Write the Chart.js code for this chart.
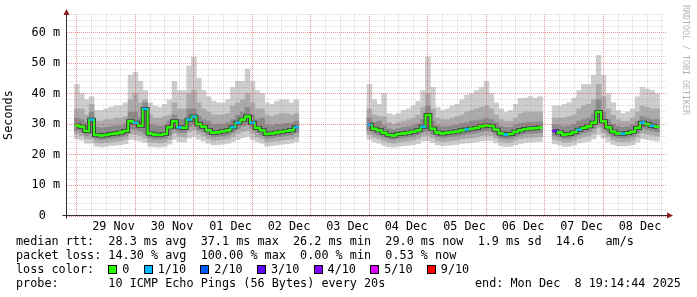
<!DOCTYPE html>
<html><head><meta charset="utf-8">
<script src="https://cdn.jsdelivr.net/npm/chart.js@4"></script>
<style>
html,body{margin:0;padding:0;background:#fff;}
#wrap{position:relative;width:697px;height:297px;overflow:hidden;font-family:"DejaVu Sans Mono",monospace;font-size:11.8px;color:#000;}
#c{position:absolute;left:0;top:0;}
.row{position:absolute;left:16px;white-space:pre;line-height:14px;}
.box{display:inline-block;width:7px;height:7px;border:1px solid #000;margin-right:5px;vertical-align:-1px;}
#credit{position:absolute;left:681px;top:5px;writing-mode:vertical-rl;font-size:8.3px;line-height:10px;color:#b4b4b4;white-space:pre;}
</style></head>
<body><div id="wrap"><canvas id="c" width="697" height="297"></canvas>
<div class="row" style="top:234px">median rtt:  28.3 ms avg  37.1 ms max  26.2 ms min  29.0 ms now  1.9 ms sd  14.6   am/s</div>
<div class="row" style="top:248px">packet loss: 14.30 % avg  100.00 % max  0.00 % min  0.53 % now</div>
<div class="row" id="lossrow" style="top:262px"></div>
<div class="row" style="top:276px">probe:       10 ICMP Echo Pings (56 Bytes) every 20s</div>
<div class="row" style="top:276px;left:475px">end: Mon Dec  8 19:14:44 2025</div>
<div id="credit">RRDTOOL / TOBI OETIKER</div>
</div>
<script>
const _ = null;
// hours relative to 29 Nov 00:00; one sample column every 2 hours
const firstSampleHour = -3, sampleHours = 2, axisStartHour = -4, axisEndHour = 236;
const dayLabels = ['29 Nov','30 Nov','01 Dec','02 Dec','03 Dec','04 Dec','05 Dec','06 Dec','07 Dec','08 Dec'];
const lossLabels = ['0','1/10','2/10','3/10','4/10','5/10','9/10'];
const lossColors = ['#26ff00','#00b8ff','#0059ff','#5e00ff','#7e00ff','#dd00ff','#ff0000'];

const med = [29.6,29.2,27.8,31.5,26.5,26.3,26.5,26.8,27.0,27.3,
 27.8,31.0,30.5,29.5,35.0,27.0,26.6,26.5,26.8,29.0,
 31.0,29.0,28.8,31.5,32.5,30.0,29.2,28.0,27.2,27.4,
 27.7,28.0,29.0,30.5,31.5,32.5,30.5,28.8,28.0,26.8,
 27.0,27.3,27.5,27.8,28.0,29.0,_,_,_,_,_,_,_,_,_,_,_,_,_,_,
 29.8,28.5,28.0,27.2,26.5,26.3,26.8,27.0,27.2,27.5,
 28.0,29.2,33.0,28.5,27.3,27.0,27.2,27.4,27.6,28.0,
 28.3,28.5,28.8,29.3,29.6,29.4,28.2,27.0,26.6,26.8,
 27.5,28.0,28.4,28.6,28.7,28.9,_,_,27.8,27.3,
 26.6,26.8,27.4,28.2,28.8,29.3,30.5,34.0,31.0,29.0,
 27.6,27.0,26.9,27.1,27.5,28.8,30.5,30.0,29.5,29.2];
const loss = [0,0,0,1,0,0,0,0,0,0, 0,0,1,0,1,0,0,0,0,0, 0,1,0,1,1,0,0,0,0,0, 0,0,1,1,0,0,1,0,0,0,
 0,0,0,0,0,1,_,_,_,_,_,_,_,_,_,_,_,_,_,_,
 1,0,0,0,0,0,0,0,0,0, 0,1,0,0,0,0,0,0,0,0, 1,0,0,0,0,0,0,0,1,0, 0,0,0,0,0,0,_,_,3,0,
 0,0,0,1,0,0,0,0,0,0, 0,0,1,0,0,0,1,0,1,0];
const maxRtt = [43,40,38,39,34.5,34.5,35,35.5,36,36,
 37,46,47,44,41,37,36,35.5,36.5,38,
 44,41,41,49,52,45,41,39,37.5,37,
 37,38,42,44,44,48,44,41,40,37,
 36.5,37.5,38,38,37,38,_,_,_,_,_,_,_,_,_,_,_,_,_,_,
 43,38,36.5,40,33.5,33,33.5,34.5,35,36,
 37.5,41,52,42,35.5,34.5,35,36,36.5,38,
 39.5,40,41,42,44,40,37,35,34,34.5,
 36.5,38.5,38.5,39,38.5,39,_,_,36,36,
 36.5,37,38.5,41,43,43,46,52.5,46,40,
 37,34.5,33.5,34,35,39,42,41.5,41,40];
const hi2 = [35,35,33,36.5,31,31,31.5,31.5,32,32,
 32.5,38,40,37,38,33,32,32,32.5,33,
 37,35,35,40,41,37,35,34,33,33,
 33,33.5,36,37,38,40,37,35,35,33,
 32.5,33,33.5,33.5,33,33.5,_,_,_,_,_,_,_,_,_,_,_,_,_,_,
 35,33,32.5,32.5,30.5,30,30.5,31,31.5,32,
 33,35.5,40,35,32,31.5,31.5,32,32.5,33,
 34,34.5,35,35.5,36,35,33,31.5,31,31,
 32,33.5,34,34,34,34,_,_,32,32,
 32,32.5,33,35,36,36.5,38,43,39,35,
 33,31.5,31,31,32,34,36,35.5,35,35];
const hi3 = [32,31.5,30.5,34,29,28.8,29,29.2,29.5,29.5,
 30,34,34,32,37,30,29.5,29.3,29.5,31,
 33,31.5,31.5,35,35,32.5,31.5,31,29.8,30,
 30,30.5,31.5,33,34,35.5,33,31.5,32,29.8,
 29.5,30,30,30.3,30.3,31,_,_,_,_,_,_,_,_,_,_,_,_,_,_,
 32,30.5,31,29.5,28.5,28.2,28.6,29,29.2,29.5,
 30.2,31.5,36,31,29.5,29.2,29.2,29.5,29.7,30.2,
 30.5,31,31.2,31.5,32,31.5,30.5,29.3,29,29,
 29.8,30.3,30.5,30.7,30.7,30.8,_,_,29.8,29.5,
 29.2,29.5,30,31,31.5,32,33.5,38,34,31.5,
 30,29.3,29,29.2,29.8,31,32.5,32,31.5,31.5];
const lo3 = [28.0,27.6,26.4,26.8,25.2,25.0,25.2,25.4,25.6,25.9,
 26.3,28.5,28.3,27.8,27.0,25.5,25.2,25.1,25.4,26.5,
 28.6,27.4,27.2,29.2,29.8,28.2,27.6,26.5,25.8,26.0,
 26.2,26.5,27.4,28.6,29.4,30.0,28.6,27.2,26.5,25.4,
 25.6,25.9,26.0,26.3,26.5,27.3,_,_,_,_,_,_,_,_,_,_,_,_,_,_,
 28.0,27.0,26.5,25.8,25.2,25.0,25.4,25.6,25.8,26.0,
 26.5,27.5,27.8,26.8,25.9,25.6,25.8,26.0,26.1,26.5,
 26.8,27.0,27.2,27.6,27.9,27.7,26.7,25.6,25.3,25.4,
 26.0,26.5,26.9,27.0,27.1,27.3,_,_,26.3,25.9,
 25.3,25.4,26.0,26.7,27.2,27.6,28.6,31.0,29.0,27.4,
 26.1,25.6,25.5,25.7,26.0,27.2,28.7,28.3,27.8,27.6];
const lo2 = [26.8,26.3,25.2,25.2,24.0,23.8,24.0,24.2,24.4,24.6,
 25.0,26.8,26.6,26.3,25.5,24.2,24.0,23.9,24.2,25.0,
 27.0,26.0,25.8,27.5,28.0,26.8,26.2,25.2,24.6,24.8,
 25.0,25.2,26.0,27.0,27.6,28.0,27.0,25.8,25.2,24.2,
 24.4,24.6,24.8,25.0,25.2,25.9,_,_,_,_,_,_,_,_,_,_,_,_,_,_,
 26.6,25.7,25.2,24.5,24.0,23.8,24.2,24.4,24.5,24.8,
 25.2,26.1,26.2,25.5,24.6,24.4,24.5,24.7,24.9,25.2,
 25.4,25.6,25.8,26.2,26.4,26.3,25.4,24.4,24.1,24.2,
 24.8,25.2,25.5,25.7,25.8,25.9,_,_,25.0,24.6,
 24.1,24.2,24.7,25.4,25.8,26.2,27.0,28.8,27.3,26.0,
 24.9,24.4,24.3,24.4,24.8,25.8,27.1,26.8,26.4,26.2];
const minRtt = [25.2,24.8,23.8,23.8,22.8,22.6,22.8,23.0,23.1,23.3,
 23.6,25.0,24.8,24.5,24.0,22.8,22.6,22.5,22.8,23.5,
 25.0,24.3,24.2,25.5,26.0,25.0,24.5,23.8,23.2,23.3,
 23.5,23.8,24.3,25.0,25.6,26.0,25.0,24.2,23.8,22.8,
 23.0,23.2,23.4,23.6,23.8,24.3,_,_,_,_,_,_,_,_,_,_,_,_,_,_,
 25.0,24.2,23.8,23.1,22.6,22.5,22.8,23.0,23.1,23.3,
 23.7,24.5,24.6,24.0,23.2,23.0,23.1,23.2,23.4,23.7,
 23.9,24.0,24.2,24.5,24.7,24.6,23.9,23.0,22.7,22.8,
 23.3,23.7,24.0,24.1,24.2,24.3,_,_,23.6,23.2,
 22.7,22.8,23.2,23.9,24.2,24.5,25.2,26.5,25.5,24.3,
 23.4,23.0,22.9,23.0,23.3,24.2,25.3,25.0,24.7,24.5];

// legend row with loss colours
const lossRow = document.getElementById('lossrow');
let html = 'loss color:  ';
lossLabels.forEach((l, i) => {
  html += '<span class="box" style="background:' + lossColors[i] + '"></span>' + l + (i < lossLabels.length - 1 ? '  ' : '');
});
lossRow.innerHTML = html;

const times = med.map((v, i) => firstSampleHour + i * sampleHours);
function band(lo, hi) {
  return times.map((t, i) => (lo[i] == null || hi[i] == null) ? null : {x: t, y: [lo[i], hi[i]]}).filter(Boolean);
}
const medPts = times.map((t, i) => ({x: t, y: med[i]}));
const lossColorOf = i => lossColors[loss[i] || 0];
const FONT = {family: 'DejaVu Sans Mono', size: 11.8};
const MINOR = 'rgba(140,140,140,0.32)', MAJOR = 'rgba(225,70,70,0.6)';

const barCommon = {type: 'bar', grouped: false, barPercentage: 1, categoryPercentage: 1, borderWidth: 0, borderSkipped: false};

const axisArrows = {
  id: 'axisArrows',
  afterDraw(chart) {
    const {ctx, chartArea: a} = chart;
    const y0 = chart.scales.y.getPixelForValue(0) - 0.5;
    const x0 = a.left - 0.5;
    ctx.save();
    ctx.strokeStyle = '#303030';
    ctx.lineWidth = 1;
    ctx.beginPath();
    ctx.moveTo(x0 - 4, y0); ctx.lineTo(a.right + 1, y0);
    ctx.moveTo(x0, y0 + 3); ctx.lineTo(x0, a.top);
    ctx.stroke();
    ctx.fillStyle = '#8b1a1a';
    ctx.beginPath();
    ctx.moveTo(x0, a.top - 5); ctx.lineTo(x0 - 3, a.top + 1); ctx.lineTo(x0 + 3, a.top + 1); ctx.closePath(); ctx.fill();
    ctx.beginPath();
    ctx.moveTo(a.right + 6, y0); ctx.lineTo(a.right, y0 - 3); ctx.lineTo(a.right, y0 + 3); ctx.closePath(); ctx.fill();
    ctx.restore();
  }
};

new Chart(document.getElementById('c'), {
  data: {
    datasets: [
      Object.assign({}, barCommon, {data: band(minRtt, maxRtt), backgroundColor: '#cdcdcd', order: 10}),
      Object.assign({}, barCommon, {data: band(lo2, hi2), backgroundColor: '#ababab', order: 9}),
      Object.assign({}, barCommon, {data: band(lo3, hi3), backgroundColor: '#8a8a8a', order: 8}),
      {type: 'line', data: medPts, borderColor: '#3c3c3c', borderWidth: 4, stepped: 'middle', spanGaps: false, pointRadius: 0, order: 3},
      {type: 'line', data: medPts, borderColor: lossColors[0], borderWidth: 2, stepped: 'middle', spanGaps: false,
        pointStyle: 'line', pointRadius: 2.5, pointBorderWidth: 2.5,
        pointBorderColor: c => lossColorOf(c.dataIndex), pointBackgroundColor: c => lossColorOf(c.dataIndex), order: 1}
    ]
  },
  options: {
    responsive: false, animation: false, devicePixelRatio: 1,
    layout: {padding: {left: 0, right: 30, top: 12, bottom: 0}, autoPadding: false},
    plugins: {legend: {display: false}, tooltip: {enabled: false}},
    scales: {
      x: {
        type: 'linear', min: axisStartHour, max: axisEndHour, position: 'bottom',
        afterBuildTicks: s => { const t = []; for (let v = 0; v <= axisEndHour; v += 6) t.push({value: v}); s.ticks = t; },
        afterFit: s => { s.height = 81; },
        ticks: {autoSkip: false, maxRotation: 0, minRotation: 0, padding: 4, font: FONT, color: '#000',
          callback: v => ((v - 12) % 24 === 0 ? dayLabels[(v - 12) / 24] : '')},
        grid: {z: 1, drawTicks: false, lineWidth: 1,
          color: c => (c.tick && c.tick.value % 24 === 0 ? MAJOR : MINOR)},
        border: {display: false, dash: [1, 1]}
      },
      y: {
        min: 0, max: 66,
        afterBuildTicks: s => { const t = []; for (let v = 0; v <= 66; v += 2) t.push({value: v}); s.ticks = t; },
        afterFit: s => { s.width = 67; },
        ticks: {autoSkip: false, padding: 7, font: FONT, color: '#000',
          callback: v => (v % 10 === 0 ? (v === 0 ? '0  ' : v + ' m') : '')},
        grid: {z: 1, drawTicks: false, lineWidth: 1,
          color: c => (c.tick && c.tick.value % 10 === 0 ? MAJOR : MINOR)},
        border: {display: false, dash: [1, 1]},
        title: {display: true, text: 'Seconds', font: FONT, color: '#000', padding: {top: 2, bottom: 0}}
      }
    }
  },
  plugins: [axisArrows]
});
</script>
</body></html>
